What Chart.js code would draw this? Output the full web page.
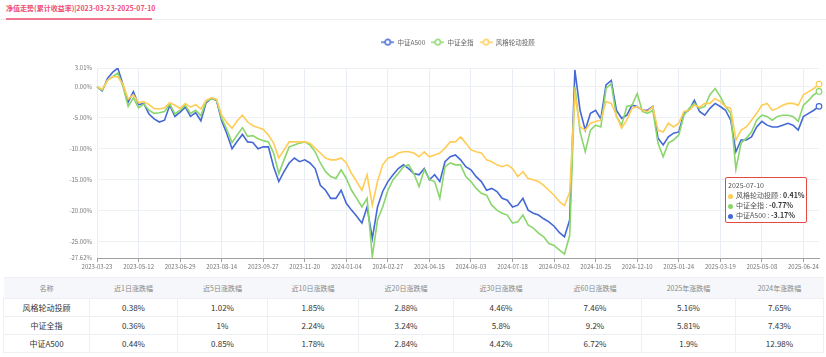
<!DOCTYPE html>
<html><head><meta charset="utf-8">
<script src="https://cdn.jsdelivr.net/npm/chart.js@4.4.0/dist/chart.umd.min.js"></script>
<style>
html,body{margin:0;padding:0;background:#fff;width:826px;height:357px;overflow:hidden;font-family:"Noto Sans CJK SC","Noto Sans",sans-serif;}
#title{position:absolute;left:6px;top:3px;font-size:7px;font-weight:bold;color:#ee4d74;white-space:nowrap;line-height:11px;}
#tabline{position:absolute;left:0;top:19px;width:826px;height:1px;background:#eeeeee;}
#tabact{position:absolute;left:6px;top:18px;width:146px;height:2px;background:#f27594;}
#wrap{position:absolute;left:0;top:0;width:826px;height:275px;}
#tip{position:absolute;left:725px;top:177px;width:82px;height:46px;border:1.5px solid #e5483f;border-radius:2px;background:rgba(255,255,255,0.96);font-size:7px;color:#555;box-sizing:border-box;padding:2px 0 0 2px;line-height:10px;white-space:nowrap;}
#tip .dot{display:inline-block;width:5px;height:5px;border-radius:50%;margin-right:3px;vertical-align:middle;}
#tip b{color:#333;}
table{position:absolute;left:3px;top:277px;border-collapse:collapse;table-layout:fixed;width:820px;}
td,th{border:1px solid #edeff3;text-align:center;padding:0;white-space:nowrap;}
th{background:#f6f7fa;font-weight:normal;color:#888;font-size:7px;height:20px;border-left:none;border-right:none;}
td{font-size:8px;color:#333;height:17px;}
</style></head>
<body>
<div id="title">净值走势(累计收益率)|2023-03-23-2025-07-10</div>
<div id="tabline"></div><div id="tabact"></div>
<div id="wrap"><canvas id="c" width="826" height="275"></canvas></div>
<div id="tip"></div>
<table id="tbl"></table>
<script>
const seriesNames = ['中证A500', '中证全指', '风格轮动投顾'];
const seriesColors = ['#4468d6', '#8ad66c', '#ffcd55'];
const tickLabels = ['2023-03-23','2023-05-12','2023-06-29','2023-08-14','2023-09-27','2023-11-20','2024-01-04','2024-02-27','2024-04-15','2024-06-03','2024-07-18','2024-09-02','2024-10-25','2024-12-10','2025-01-24','2025-03-19','2025-05-08','2025-06-24'];
const endDate = '2025-07-10';
const yTicks = [3.01, 0, -5, -10, -15, -20, -25, -27.62];

const a500 = [0,-0.7,1.3,2.3,3.0,0.3,-2.5,-0.8,-2.9,-2.7,-4.4,-5.2,-5.7,-5.4,-3.0,-4.8,-4.1,-3.3,-4.8,-4.2,
-5.5,-2.6,-1.9,-2.2,-5.5,-7.6,-10.0,-8.8,-7.7,-8.9,-9.0,-10.0,-9.7,-9.7,-12.9,-15.3,-13.7,-12.3,-11.5,-12.1,
-11.8,-12.3,-13.2,-15.9,-16.7,-18.0,-18.0,-16.7,-18.8,-19.9,-20.9,-22.0,-19.4,-24.5,-19.4,-16.9,-15.3,-14.2,-13.2,-12.6,
-13.2,-14.0,-14.2,-13.2,-15.0,-14.2,-15.3,-12.1,-11.3,-11.0,-11.8,-12.9,-13.4,-14.5,-15.3,-16.7,-16.4,-16.9,-18.0,-18.3,
-19.4,-19.1,-18.0,-19.9,-20.4,-20.7,-21.3,-21.8,-22.5,-23.5,-24.2,-21.5,2.7,-3.8,-7.0,-4.3,-3.8,-5.2,0.3,1.0,
-3.8,-5.1,-4.6,-3.0,-3.2,-3.8,-3.8,-3.2,-8.3,-9.4,-8.1,-7.5,-7.3,-4.3,-3.8,-2.2,-4.0,-4.6,-3.5,-2.7,
-3.2,-3.8,-5.4,-10.5,-8.6,-8.6,-8.1,-6.5,-5.6,-6.2,-6.5,-6.5,-6.2,-5.9,-6.2,-7.0,-4.8,-4.3,-3.8,-3.17];
const csiAll = [0,-0.6,1.0,1.6,2.2,0,-3.2,-1.8,-3.4,-2.8,-3.8,-4.3,-4.2,-4.0,-2.8,-4.4,-3.8,-3.0,-4.3,-3.8,
-4.7,-2.4,-1.9,-2.1,-5.1,-6.9,-9.0,-7.8,-6.6,-8.0,-7.9,-8.4,-8.7,-8.9,-10.7,-14.0,-11.8,-9.7,-9.4,-9.1,
-8.9,-9.4,-10.5,-12.3,-13.7,-14.5,-14.8,-13.4,-14.8,-16.7,-18.0,-19.4,-18.0,-27.4,-21.5,-19.4,-16.7,-15.0,-14.0,-12.9,
-12.6,-14.0,-16.1,-13.4,-15.0,-15.3,-18.0,-12.9,-12.3,-12.6,-12.6,-14.5,-15.3,-16.4,-17.2,-17.5,-19.1,-19.9,-20.4,-20.7,
-22.0,-21.8,-20.7,-22.3,-22.8,-23.6,-24.2,-25.3,-25.6,-26.3,-27.0,-24.0,0.0,-7.3,-10.5,-7.0,-6.2,-6.5,-0.3,0.5,
-4.8,-6.2,-3.2,-3.0,-1.1,-4.0,-4.3,-3.8,-9.1,-11.3,-9.1,-8.6,-7.8,-4.6,-3.5,-2.7,-3.5,-3.2,-1.3,-0.3,
-1.6,-3.2,-4.3,-13.3,-9.1,-8.3,-7.3,-5.4,-4.6,-4.8,-5.4,-4.8,-4.6,-4.6,-4.8,-5.6,-3.0,-2.2,-1.3,-0.77];
const styleRot = [0,-0.4,1.0,1.6,1.6,0.4,-2.0,-1.3,-2.6,-2.4,-2.9,-3.5,-3.6,-3.4,-2.6,-3.0,-3.5,-2.7,-3.3,-2.9,
-3.6,-2.2,-1.8,-2.0,-4.6,-5.8,-6.7,-5.5,-4.6,-5.7,-6.3,-6.6,-6.9,-7.8,-9.1,-11.5,-10.2,-8.9,-8.9,-8.9,
-8.9,-9.1,-9.9,-10.7,-11.5,-11.8,-11.8,-11.5,-12.3,-14.0,-15.3,-16.7,-14.2,-19.1,-15.3,-12.6,-11.5,-11.3,-10.7,-10.5,
-10.5,-10.7,-11.3,-10.5,-11.3,-11.0,-10.7,-9.9,-8.9,-8.9,-8.1,-9.1,-10.2,-10.5,-10.7,-11.8,-12.1,-12.6,-12.9,-12.6,
-13.2,-14.5,-13.7,-14.8,-15.0,-15.3,-15.9,-16.7,-17.5,-18.5,-19.2,-17.0,-1.2,-6.5,-7.0,-5.9,-5.6,-5.4,-2.4,-2.7,
-4.6,-6.7,-5.4,-3.5,-3.2,-3.8,-4.0,-3.2,-7.0,-7.3,-5.9,-6.5,-5.9,-4.0,-3.8,-3.0,-3.3,-2.7,-2.7,-1.9,
-2.4,-3.2,-3.5,-8.6,-7.0,-6.5,-5.4,-4.3,-3.0,-2.7,-3.8,-3.5,-3.0,-2.7,-2.7,-3.0,-1.3,-0.8,-0.3,0.41];

const tableHeaders = ['名称','近1日涨跌幅','近5日涨跌幅','近10日涨跌幅','近20日涨跌幅','近30日涨跌幅','近60日涨跌幅','2025年涨跌幅','2024年涨跌幅'];
const rowNames = ['风格轮动投顾','中证全指','中证A500'];
const rowStyle = ['0.38%','1.02%','1.85%','2.88%','4.46%','7.46%','5.16%','7.65%'];
const rowAll = ['0.36%','1%','2.24%','3.24%','5.8%','9.2%','5.81%','7.43%'];
const rowA500 = ['0.44%','0.85%','1.78%','2.84%','4.42%','6.72%','1.9%','12.98%'];
const colWidths = [86, 88, 90, 91, 95, 95, 93, 94, 88];

const STEP = 8;
const N = a500.length;
const categories = a500.map((_, i) => i === N - 1 ? endDate : (i % STEP === 0 ? tickLabels[i / STEP] : ''));
const seriesData = [a500, csiAll, styleRot];

const FONT = '"Noto Sans CJK SC", "Noto Sans", sans-serif';
Chart.defaults.font.family = FONT;

function icon(color) {
  const c = document.createElement('canvas'); c.width = 13; c.height = 8;
  const g = c.getContext('2d');
  g.strokeStyle = color; g.lineWidth = 1.4;
  g.beginPath(); g.moveTo(0, 4); g.lineTo(13, 4); g.stroke();
  g.beginPath(); g.arc(6.5, 4, 2.7, 0, Math.PI * 2); g.fillStyle = '#fff'; g.fill(); g.stroke();
  return c;
}
const icons = seriesColors.map(icon);

const datasets = seriesData.map((d, k) => ({
  label: seriesNames[k], data: d, borderColor: seriesColors[k], backgroundColor: '#fff',
  borderWidth: 1.6, tension: 0, order: 2 - k,
  pointRadius: ctx => ctx.dataIndex === N - 1 ? 2.8 : 0,
  pointBorderWidth: 1.2, pointBackgroundColor: '#fff', pointBorderColor: seriesColors[k]
}));

const legendFix = {
  id: 'legendFix',
  beforeInit(chart) {
    const orig = chart.legend.fit;
    chart.legend.fit = function () { orig.call(this); this.height = 35; };
  }
};

new Chart(document.getElementById('c'), {
  type: 'line',
  data: { labels: categories, datasets },
  plugins: [legendFix],
  options: {
    responsive: false, animation: false,
    layout: { padding: { top: 33, right: 7, left: 0, bottom: 0 } },
    plugins: {
      tooltip: { enabled: false },
      legend: {
        position: 'top', fullSize: false,
        labels: {
          usePointStyle: true, pointStyleWidth: 13, padding: 6, color: '#666',
          font: { size: 6.5, family: FONT },
          generateLabels: chart => seriesNames.map((n, k) => ({
            text: n, fillStyle: '#fff', strokeStyle: seriesColors[k], pointStyle: icons[k],
            fontColor: '#666', datasetIndex: k, hidden: false, lineWidth: 0
          }))
        }
      }
    },
    scales: {
      x: {
        type: 'category', offset: false,
        grid: { color: '#e8ecf6', tickLength: 4, tickColor: '#a0a0a0', lineWidth: 1 },
        border: { color: '#a0a0a0' },
        ticks: { autoSkip: false, maxRotation: 0, color: '#777', font: { size: 6 }, padding: 1,
          callback: v => categories[v] },
        afterBuildTicks: s => { s.ticks = s.ticks.filter(t => t.value % STEP === 0); },
        afterFit: s => { s.height = 17; }
      },
      y: {
        min: -27.62, max: 3.01,
        afterBuildTicks: s => { s.ticks = yTicks.map(v => ({ value: v })); },
        ticks: { autoSkip: false, color: '#777', font: { size: 6 }, padding: 5,
          callback: v => v.toFixed(2) + '%' },
        grid: { color: '#eef0f5', drawTicks: false },
        border: { display: false },
        afterFit: s => { s.width = 97; }
      }
    }
  }
});

// tooltip overlay (static, final day)
const tipOrder = [2, 1, 0];
let html = '<div>' + endDate + '</div>';
tipOrder.forEach(k => {
  const v = seriesData[k][N - 1];
  html += '<div><span class="dot" style="background:' + seriesColors[k] + '"></span>' + seriesNames[k] + ' : <b>' + v.toFixed(2) + '%</b></div>';
});
document.getElementById('tip').innerHTML = html;

// table
const tbl = document.getElementById('tbl');
let t = '<colgroup>' + colWidths.map(w => '<col style="width:' + w + 'px">').join('') + '</colgroup>';
t += '<tr>' + tableHeaders.map(h => '<th>' + h + '</th>').join('') + '</tr>';
[rowStyle, rowAll, rowA500].forEach((r, i) => {
  t += '<tr><td>' + rowNames[i] + '</td>' + r.map(c => '<td>' + c + '</td>').join('') + '</tr>';
});
tbl.innerHTML = t;
</script>
</body></html>
